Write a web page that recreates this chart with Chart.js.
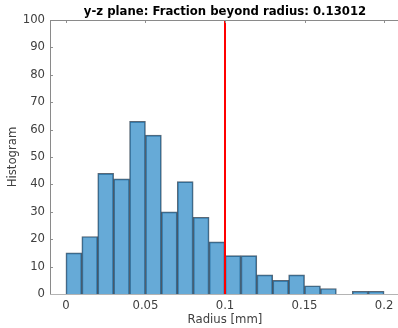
<!DOCTYPE html>
<html>
<head>
<meta charset="utf-8">
<script src="https://cdn.jsdelivr.net/npm/chart.js@4.4.1/dist/chart.umd.min.js"></script>
<style>
    html, body { margin: 0; padding: 0; background: #fff; overflow: hidden; }
    #wrap { width: 398px; height: 328px; overflow: hidden; position: relative; }
    #wrap canvas { position: absolute; left: 0; top: 0; }
</style>
</head>
<body>
<div id="wrap"><canvas id="hist" width="400" height="328"></canvas></div>
<script>
// Histogram data (bin width 0.01 mm)
const binEdges = [0, 0.01, 0.02, 0.03, 0.04, 0.05, 0.06, 0.07, 0.08, 0.09, 0.1,
                  0.11, 0.12, 0.13, 0.14, 0.15, 0.16, 0.17, 0.18, 0.19, 0.2];
const counts = [15, 21, 44, 42, 63, 58, 30, 41, 28, 19, 14, 14, 7, 5, 7, 3, 2, 0, 1, 1];
const xTicks = [0, 0.05, 0.1, 0.15, 0.2];
const yTicks = [0, 10, 20, 30, 40, 50, 60, 70, 80, 90, 100];
const threshold = 0.1;
const titleText = 'y-z plane: Fraction beyond radius: 0.13012';
const xLabel = 'Radius [mm]';
const yLabel = 'Histogram';

const FONT = 'DejaVu Sans';
const FS = 11.7;
const TEXT = '#404040';

const barData = counts.map((c, i) => ({ x: (binEdges[i] + binEdges[i + 1]) / 2, y: c }));

// Frame, inner ticks, title and axis labels, MATLAB style
const framePlugin = {
    id: 'frame',
    afterDatasetsDraw(chart) {
        const { ctx, chartArea: a, scales } = chart;
        ctx.save();
        ctx.lineWidth = 1;
        // ticks pointing inwards
        ctx.strokeStyle = '#909090';
        ctx.beginPath();
        xTicks.forEach(v => {
            const px = Math.round(scales.x.getPixelForValue(v)) + 0.5;
            ctx.moveTo(px, a.top); ctx.lineTo(px, a.top + 3);
        });
        yTicks.forEach(v => {
            const py = Math.round(scales.y.getPixelForValue(v)) + 0.5;
            ctx.moveTo(a.left, py); ctx.lineTo(a.left + 3, py);
        });
        ctx.stroke();
        // box
        ctx.strokeStyle = '#8a8a8a';
        ctx.beginPath();
        ctx.moveTo(Math.round(a.left) + 0.5, Math.round(a.bottom));
        ctx.lineTo(Math.round(a.left) + 0.5, Math.round(a.top) + 0.5);
        ctx.lineTo(Math.round(a.right), Math.round(a.top) + 0.5);
        ctx.stroke();
        ctx.strokeStyle = '#b4b4b4';
        ctx.beginPath();
        ctx.moveTo(Math.round(a.left), Math.round(a.bottom) + 0.5);
        ctx.lineTo(Math.round(a.right), Math.round(a.bottom) + 0.5);
        ctx.stroke();

        // title
        ctx.fillStyle = '#000';
        ctx.font = 'bold ' + FS + 'px "' + FONT + '"';
        ctx.textAlign = 'center';
        ctx.textBaseline = 'middle';
        ctx.fillText(titleText, (a.left + a.right) / 2, 12);

        // axis titles
        ctx.fillStyle = TEXT;
        ctx.font = FS + 'px "' + FONT + '"';
        ctx.fillText(xLabel, (a.left + a.right) / 2, 320);
        ctx.translate(13, (a.top + a.bottom) / 2);
        ctx.rotate(-Math.PI / 2);
        ctx.fillText(yLabel, 0, 0);
        ctx.restore();
    }
};

new Chart(document.getElementById('hist'), {
    type: 'bar',
    data: {
        datasets: [
            {
                type: 'line',
                data: [{ x: threshold, y: 0 }, { x: threshold, y: 100 }],
                borderColor: '#ff0000',
                borderWidth: 2,
                pointRadius: 0,
                order: 0
            },
            {
                data: barData,
                backgroundColor: 'rgba(0, 114, 189, 0.6)',
                borderColor: 'rgba(20, 40, 60, 0.7)',
                borderWidth: 1,
                borderSkipped: 'bottom',
                barPercentage: 1,
                categoryPercentage: 1,
                order: 1
            }
        ]
    },
    options: {
        responsive: false,
        animation: false,
        layout: { padding: { top: 20, left: 0, right: 0, bottom: 0 } },
        plugins: {
            legend: { display: false },
            tooltip: { enabled: false }
        },
        scales: {
            x: {
                type: 'linear',
                offset: false,
                min: -0.01,
                max: 0.21,
                afterFit: s => { s.height = 34; },
                afterBuildTicks: s => { s.ticks = xTicks.map(v => ({ value: v })); },
                grid: { display: false, drawTicks: false, offset: false },
                border: { display: false },
                ticks: {
                    color: TEXT,
                    padding: 5,
                    maxRotation: 0,
                    font: { family: FONT, size: FS },
                    callback: v => String(v)
                }
            },
            y: {
                min: 0,
                max: 100,
                afterFit: s => { s.width = 50; },
                afterBuildTicks: s => { s.ticks = yTicks.map(v => ({ value: v })); },
                grid: { display: false, drawTicks: false },
                border: { display: false },
                ticks: {
                    color: TEXT,
                    padding: 5,
                    font: { family: FONT, size: FS }
                }
            }
        }
    },
    plugins: [framePlugin]
});
</script>
</body>
</html>
